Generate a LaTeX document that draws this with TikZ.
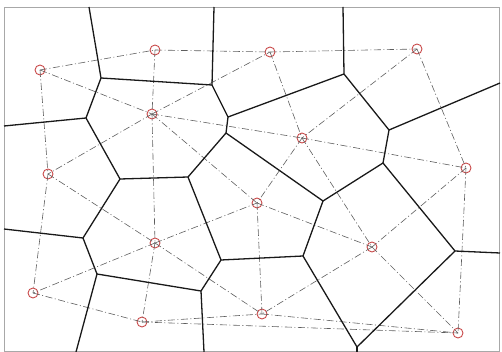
\documentclass[tikz,border=0pt]{standalone}
\usepackage{tikz}
\usetikzlibrary{calc}
\definecolor{pt}{HTML}{C94A4A}
\definecolor{grey}{HTML}{5E5E5E}
\definecolor{rim}{HTML}{A8A8A8}

\begin{document}
\begin{tikzpicture}[x=1pt, y=-1pt,
    site/.style={circle, draw=pt, line width=0.9pt, minimum size=10pt, inner sep=0pt},
    delau/.style={grey, line width=0.6pt, dash pattern=on 7pt off 2.5pt on 1pt off 2.5pt},
    cell/.style={black!90, line width=1.3pt, line join=round}]
  \useasboundingbox (0,0) rectangle (502,352);
  \draw[rim, line width=0.8pt] (4.5,7.5) rectangle (499.5,351.5);

  % sites
  \foreach \n/\x/\y in {1/40/70, 2/155/50, 3/152/114, 4/48/174, 5/270/52,
                        6/417/49, 7/302/138, 8/466/168, 9/155/243, 10/257/203,
                        11/372/247, 12/33/293, 13/142/322, 14/262/314, 15/458/333}
    { \node[site] (s\n) at (\x,\y) {}; }

  % Delaunay edges
  \foreach \a/\b in {1/2, 1/3, 1/4, 2/3, 2/5, 3/5, 3/7, 3/10, 3/9, 3/4,
                     5/6, 5/7, 6/7, 6/8, 7/8, 7/10, 7/11, 8/11, 8/15,
                     4/9, 4/12, 9/10, 9/12, 9/13, 9/14, 10/11, 10/14,
                     11/14, 11/15, 12/13, 13/14, 13/15, 14/15}
    { \draw[delau] (s\a.center) -- (s\b.center); }

  % Voronoi vertices
  \foreach \v/\x/\y in {A/101/78, B/212/85, C/86/118, D/120/179, E/188/177,
                        F/83/238, G/97/274, H/201/291, I/221/260, J/303/256,
                        K/228/117, L/344/74, M/389/130, N/226/133, O/323/201,
                        P/383/163, Q/455/251, R/357/347}
    { \coordinate (v\v) at (\x,\y); }
  % where the cells meet the frame
  \foreach \v/\x/\y in {A/89/7, B/214/7, L/343/7, C/4/126, F/4/229,
                        G/76/352, H/204/352, R/357/352, M/500/83, Q/500/253}
    { \coordinate (e\v) at (\x,\y); }

  % Voronoi edges
  \foreach \a/\b in {vA/eA, vA/vB, vA/vC, vB/eB, vB/vK, vC/eC, vC/vD, vD/vE,
                     vD/vF, vE/vN, vE/vI, vF/eF, vF/vG, vG/vH, vG/eG, vH/vI,
                     vH/eH, vI/vJ, vJ/vO, vJ/vR, vK/vN, vK/vL, vL/eL, vL/vM,
                     vM/eM, vM/vP, vN/vO, vO/vP, vP/vQ, vQ/eQ, vQ/vR, vR/eR}
    { \draw[cell] (\a) -- (\b); }
\end{tikzpicture}
\end{document}
